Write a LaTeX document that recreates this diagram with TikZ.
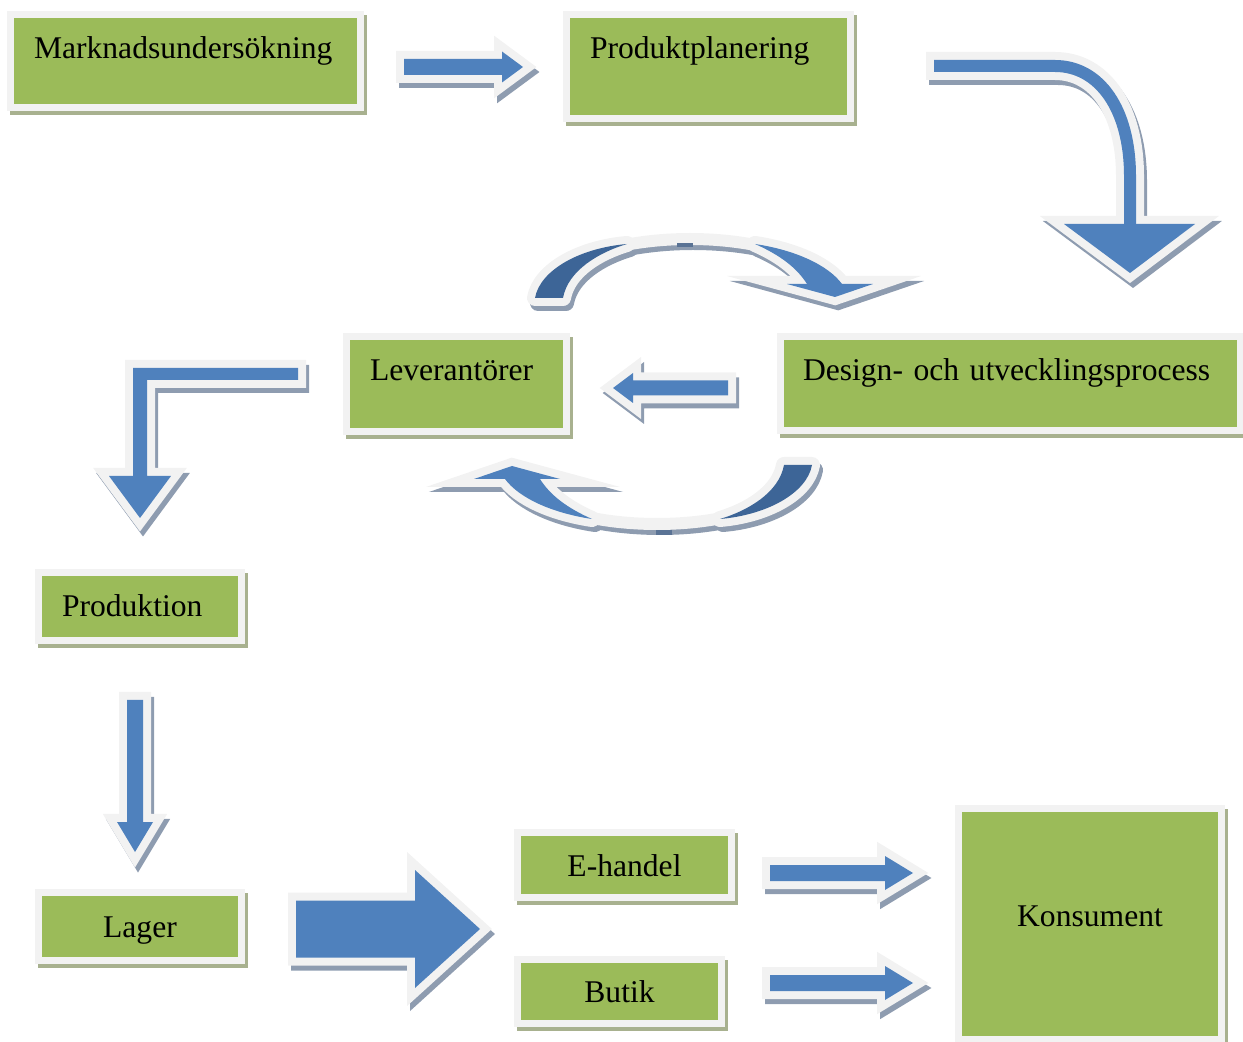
\documentclass[tikz,border=0pt]{standalone}
\usepackage{fontspec}
\setmainfont{Liberation Serif}
\usetikzlibrary{calc,backgrounds}
\definecolor{boxgreen}{HTML}{9BBB59}
\definecolor{bordergray}{HTML}{F2F2F2}
\definecolor{boxshadowc}{HTML}{A8B18F}
\definecolor{ablue}{HTML}{4F81BD}
\definecolor{adark}{HTML}{3D6597}
\definecolor{ashadowc}{HTML}{8E9CB0}
\definecolor{seamc}{HTML}{5A7395}
\tikzset{
 greenbox/.style={draw=bordergray, fill=boxgreen, line width=3.5pt, inner ysep=0pt,
   font=\fontsize{15.8}{18}\selectfont, text=black},
 ashadow/.style={fill=ashadowc, draw=ashadowc, line width=8pt, line join=miter},
 aborder/.style={fill=bordergray, draw=bordergray, line width=8pt, line join=miter},
 afill/.style={fill=ablue},
 cband/.style={draw=#1, line width=6pt},
 cshape/.style={draw=#1, fill=#1, line width=8pt, line join=round},
 chead/.style={draw=#1, fill=#1, line width=8pt, line join=miter, miter limit=12},
}
% green box: name, gx1, gy1, gx2, gy2, baseline, pad, align, text
\newcommand\gbox[9]{%
 \pgfmathsetmacro\gbW{(#4-#2+7-2*#7)*0.5}%
 \pgfmathsetmacro\gbX{#7*0.5}%
 \pgfmathsetmacro\gbH{(#6-#3+3.5)*0.5}%
 \pgfmathsetmacro\gbD{(#5-#6+3.5)*0.5}%
 \node[greenbox, inner xsep=\gbX pt, text width=\gbW pt, text height=\gbH pt,
   text depth=\gbD pt, align=#8] (#1) at ({(#2+#4)/2},{(#3+#5)/2}) {\mbox{#9}};
 \begin{scope}[on background layer]
  \fill[boxshadowc] ($(#1.north west)+(3,4)$) rectangle ($(#1.south east)+(3,4)$);
 \end{scope}}
% straight block arrow shape
\newcommand\arrowshape[5]{%
 \path[#1] (0,-#3) -- ({#2-#5},-#3) -- ({#2-#5},-#4) -- (#2,0) -- ({#2-#5},#4)
   -- ({#2-#5},#3) -- (0,#3) -- cycle;}
% x, y, angle, length, shaft half width, head half width, head length
\newcommand\barrow[7]{%
 \begin{scope}[shift={(3,5)}]\begin{scope}[shift={(#1,#2)},rotate=#3]
   \arrowshape{ashadow}{#4}{#5}{#6}{#7}\end{scope}\end{scope}
 \begin{scope}[shift={(#1,#2)},rotate=#3]
   \arrowshape{aborder}{#4}{#5}{#6}{#7}\arrowshape{afill}{#4}{#5}{#6}{#7}\end{scope}}
% circular arrow parts
\newcommand\cycshapes[4]{%
 \path[#1] (690,300) ++(-120:150 and 61) arc[start angle=-120,end angle=-60,x radius=150,y radius=61];
 \path[#2] (535,298) .. controls (540,270) and (580,248) .. (627,244)
   .. controls (600,252) and (568,270) .. (563,298) -- cycle;
 \path[#3] (755,244) .. controls (795,250) and (828,265) .. (842,284) -- (807,284)
   .. controls (797,268) and (780,255) .. (755,244) -- cycle;
 \path[#4] (787,284) -- (873,284) -- (835,297) -- cycle;}
\newcommand\cycarrow[1]{%
 \begin{scope}[shift={(3,5)}]\begin{scope}[rotate around={#1:(673.5,381.5)}]
  \cycshapes{cband=ashadowc}{cshape=ashadowc}{cshape=ashadowc}{chead=ashadowc}
 \end{scope}\end{scope}
 \begin{scope}[rotate around={#1:(673.5,381.5)}]
  \cycshapes{cband=bordergray}{cshape=bordergray}{cshape=bordergray}{chead=bordergray}
  \cycshapes{}{fill=adark}{fill=ablue}{fill=ablue}
 \end{scope}}
\newcommand\Lshape[1]{\path[#1] (298,368) -- (133,368) -- (133,476) -- (109,476) -- (140,518)
   -- (171,476) -- (147,476) -- (147,380) -- (298,380) -- cycle;}
\begin{document}
\begin{tikzpicture}[x=0.5pt,y=-0.5pt]
\useasboundingbox (0,0) rectangle (1243,1042);
% boxes
\gbox{mark}{14}{18}{357}{104}{59}{23.5}{left}{Marknadsundersökning}
\gbox{plan}{570}{18}{847}{115}{59}{23.5}{left}{Produktplanering}
\gbox{lev}{350}{340}{563}{428}{381}{23.5}{left}{Leverantörer}
\gbox{design}{784}{340}{1237}{427}{381}{22.5}{left}{Design- och utvecklingsprocess}
\gbox{prod}{42}{576}{238}{637}{617}{23.5}{left}{Produktion}
\gbox{lager}{42}{896}{238}{957}{937}{0}{center}{Lager}
\gbox{ehandel}{521}{836}{728}{894}{876}{0}{center}{E-handel}
\gbox{butik}{521}{963}{718}{1020}{1002}{0}{center}{Butik}
\gbox{kons}{962}{812}{1218}{1036}{926}{0}{center}{Konsument}
% straight arrows
\barrow{404}{67}{0}{119}{8}{15.5}{21}
\barrow{728}{388}{180}{115}{7.5}{15}{20}
\barrow{135}{700}{-90}{152}{8}{18}{30}
\barrow{296}{929}{0}{184}{28.5}{59}{65}
\barrow{770}{873}{0}{143}{8}{17}{28}
\barrow{770}{983}{0}{143}{8}{17}{28}
% L-shaped arrow
\begin{scope}[shift={(3,5)}]\Lshape{ashadow}\end{scope}
\Lshape{aborder}\Lshape{afill}
% curved arrow
\begin{scope}[shift={(3,5)}]
 \path[draw=ashadowc, line width=14pt] (926,66) -- (1055,66) .. controls (1100,66) and (1130,110) .. (1130,176) -- (1130,228);
 \path[chead=ashadowc] (1064,224) -- (1195,224) -- (1130,273) -- cycle;
\end{scope}
\path[draw=bordergray, line width=14pt] (926,66) -- (1055,66) .. controls (1100,66) and (1130,110) .. (1130,176) -- (1130,228);
\path[chead=bordergray] (1064,224) -- (1195,224) -- (1130,273) -- cycle;
\path[draw=ablue, line width=6pt] (934,66) -- (1055,66) .. controls (1100,66) and (1130,110) .. (1130,176) -- (1130,228);
\fill[ablue] (1064,224) -- (1195,224) -- (1130,273) -- cycle;
% circular arrows
\cycarrow{0}
\cycarrow{180}
\fill[seamc] (677,243) rectangle (693,247);
\fill[seamc] (656,530) rectangle (672,535);
\end{tikzpicture}
\end{document}
